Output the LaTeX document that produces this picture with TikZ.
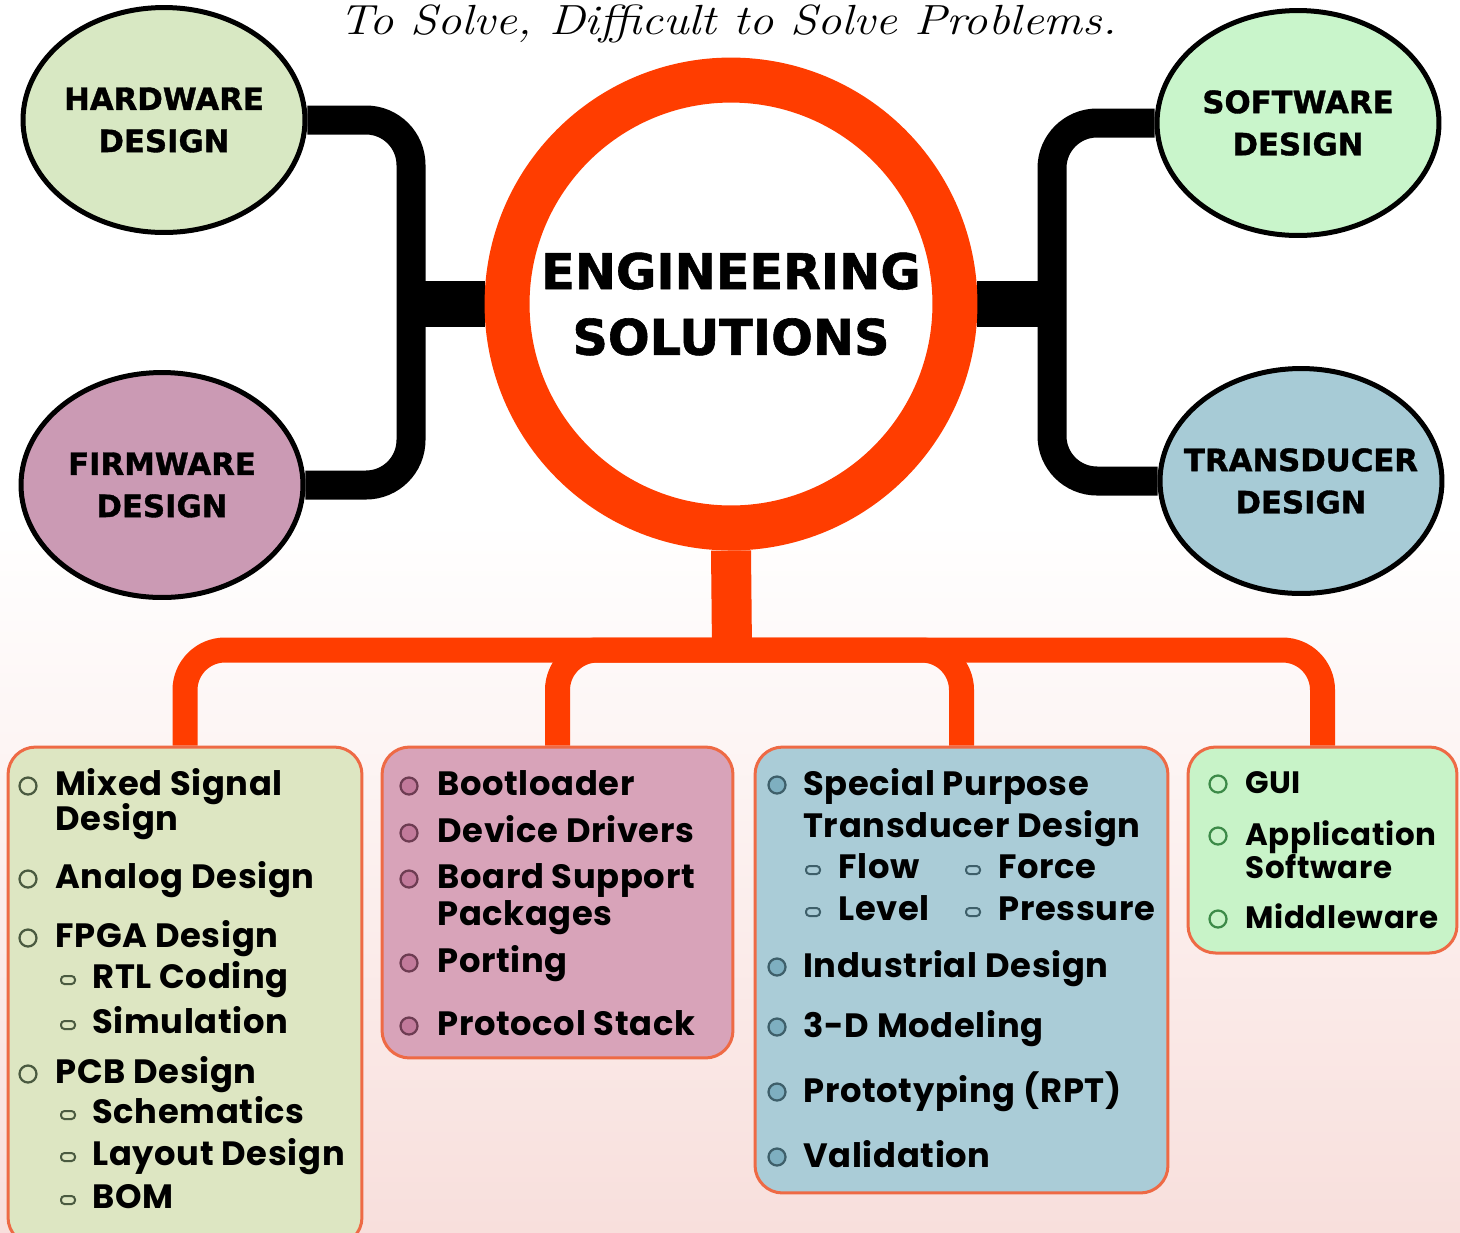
\documentclass[tikz,border=0pt]{standalone}
\usepackage{fontspec}
\usetikzlibrary{shapes.geometric, backgrounds}
\newfontfamily\itemfont{Poppins}[LetterSpace=2]
\newfontfamily\headfont{DejaVu Sans}[BoldFeatures={FakeBold=1.2}]
\definecolor{hotorange}{HTML}{FF3D00}
\definecolor{cardedge}{HTML}{EE6A45}
\definecolor{bgpink}{HTML}{F8DFDC}
\definecolor{hwfill}{HTML}{D8E8C3}
\definecolor{fwfill}{HTML}{CB9AB4}
\definecolor{swfill}{HTML}{C9F5CB}
\definecolor{tdfill}{HTML}{A7CBD6}
\definecolor{cardA}{HTML}{DDE6C2}
\definecolor{cardB}{HTML}{D8A3B9}
\definecolor{cardC}{HTML}{AACCD7}
\definecolor{cardD}{HTML}{C8F3C8}
\definecolor{dotA}{HTML}{4A5A40}
\definecolor{dotB}{HTML}{6D3C52}
\definecolor{dotBfill}{HTML}{C27A9B}
\definecolor{dotC}{HTML}{3E5F6A}
\definecolor{dotCfill}{HTML}{7EAFC0}
\definecolor{dotD}{HTML}{3C8A48}
\tikzset{>=stealth,
  bubble/.style={ellipse, draw=black, line width=0.1cm, minimum width=5.64cm,
    minimum height=4.5cm},
  bubbletext/.style={align=center, inner sep=0pt,
    font=\headfont\bfseries\fontsize{17.5}{24}\selectfont},
  brace/.style={draw=black, line width=0.58cm, rounded corners=0.9cm},
  branchline/.style={draw=hotorange, line width=0.5cm, rounded corners=0.8cm},
  card/.style={rectangle, draw=cardedge, line width=0.06cm, rounded corners=0.55cm},
  item/.style={anchor=base west, inner sep=0pt,
    font=\itemfont\bfseries\fontsize{19.2}{23}\selectfont},
  itemsmall/.style={item, font=\itemfont\bfseries\fontsize{17.6}{21}\selectfont},
  pill/.style={line width=0.04cm, rounded corners=0.07cm}
}
\begin{document}
\begin{tikzpicture}[x=0.02cm, y=-0.02cm]
\useasboundingbox (0,0) rectangle (1460,1232);
\clip (0,0) rectangle (1460,1232);

% tag line
\node[font=\itshape\fontsize{24}{28}\selectfont, anchor=base] (tagline) at (728,34)
  {\scalebox{1.15}[1]{To Solve, Difficult to Solve Problems.}};

% centre
\node[circle, draw=hotorange, line width=0.9cm, fill=white, minimum size=8.96cm,
  align=center, font=\headfont\bfseries\fontsize{28}{37.4}\selectfont]
  (core) at (731,304) {ENGINEERING\\SOLUTIONS};

% the four design areas
\node[bubble, fill=hwfill] (hw) at (164,120) {};
\node[bubble, fill=fwfill] (fw) at (162,485) {};
\node[bubble, fill=swfill] (sw) at (1298,123) {};
\node[bubble, fill=tdfill] (td) at (1301,481) {};
\node[bubbletext] (hwt) at (hw.center) {HARDWARE\\DESIGN};
\node[bubbletext] (fwt) at (fw.center) {FIRMWARE\\DESIGN};
\node[bubbletext] (swt) at (sw.center) {SOFTWARE\\DESIGN};
\node[bubbletext] (tdt) at (td.center) {TRANSDUCER\\DESIGN};

% cards
\node[card, fill=cardA, minimum width=7.08cm, minimum height=9.96cm] (cA) at (185,996) {};
\node[card, fill=cardB, minimum width=7.02cm, minimum height=6.22cm] (cB) at (557.5,902.5) {};
\node[card, fill=cardC, minimum width=8.26cm, minimum height=8.92cm] (cC) at (961.5,970) {};
\node[card, fill=cardD, minimum width=5.38cm, minimum height=4.12cm] (cD) at (1322.5,850) {};

\coordinate (lbr) at (411,304);
\coordinate (rbr) at (1052,304);
\coordinate (hub) at (732,650);

\begin{scope}[on background layer]
\fill[white] (0,0) rectangle (1460,1232);
\shade[top color=white, bottom color=bgpink] (0,520) rectangle (1460,1232);
% black brackets
\draw[brace] (hw.east) -| (lbr) |- (fw.east);
\draw[brace] (sw.west) -| (rbr) |- (td.west);
\draw[black, line width=0.92cm] (lbr) -- (core.west);
\draw[black, line width=0.92cm] (rbr) -- (core.east);
% orange tree
\draw[hotorange, line width=0.8cm] (core.south) -- (hub);
\draw[branchline] (cA.north) |- (hub) -| (cD.north);
\draw[branchline] (cB.north) |- (hub);
\draw[branchline] (cC.north) |- (hub);
\end{scope}

% card A
\foreach \y in {795,888,947,1083}
  \draw[draw=dotA, line width=0.045cm] (28,\y-9) circle (0.17cm);
\foreach \y/\t [count=\i] in {795/Mixed Signal, 830/Design, 888/Analog Design,
    947/FPGA Design, 1083/PCB Design}
  \node[item] (a\i) at (55,\y) {\t};
\foreach \y/\t [count=\i] in {988/RTL Coding, 1033/Simulation, 1123/Schematics,
    1165/Layout Design, 1208/BOM} {
  \draw[pill, draw=dotA] (61,\y-12) rectangle (75,\y-4);
  \node[item] (as\i) at (92,\y) {\t};
}

% card B
\foreach \y in {795,842,888,972,1035}
  \filldraw[draw=dotB, fill=dotBfill, line width=0.045cm] (409,\y-9) circle (0.17cm);
\foreach \y/\t [count=\i] in {795/Bootloader, 842/Device Drivers, 888/Board Support,
    925/Packages, 972/Porting, 1035/Protocol Stack}
  \node[item] (b\i) at (437,\y) {\t};

% card C
\foreach \y in {795,977,1037,1102,1167}
  \filldraw[draw=dotC, fill=dotCfill, line width=0.045cm] (777,\y-10) circle (0.17cm);
\foreach \y/\t [count=\i] in {795/Special Purpose, 837/Transducer Design,
    977/Industrial Design, 1037/3-D Modeling, 1102/{Prototyping (RPT)}, 1167/Validation}
  \node[item] (c\i) at (803,\y) {\t};
\foreach \x/\y/\t [count=\i] in {813/878/Flow, 973/878/Force, 813/920/Level, 973/920/Pressure} {
  \draw[pill, draw=dotC] (\x-7,\y-12) rectangle (\x+7,\y-4);
  \node[item] (cs\i) at (\x+25,\y) {\t};
}

% card D
\foreach \y in {793,845,928}
  \draw[draw=dotD, line width=0.045cm] (1218,\y-9) circle (0.17cm);
\foreach \y/\t [count=\i] in {793/GUI, 845/Application, 878/Software, 928/Middleware}
  \node[itemsmall] (d\i) at (1245,\y) {\t};
\end{tikzpicture}
\end{document}
